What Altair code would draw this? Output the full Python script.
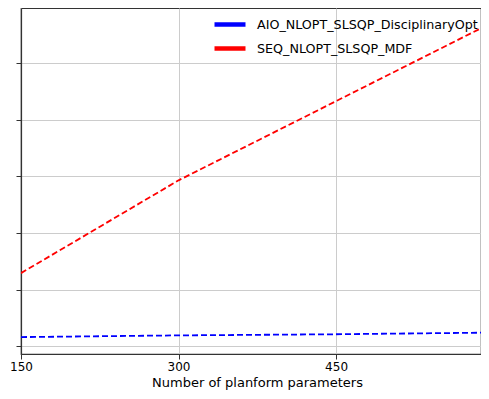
import altair as alt
import pandas as pd

params = [150, 300, 450, 600]
aio_values = [0.16, 0.19, 0.21, 0.24]
seq_values = [1.29, 2.93, 4.33, 5.73]
series_names = ["AIO_NLOPT_SLSQP_DisciplinaryOpt", "SEQ_NLOPT_SLSQP_MDF"]
series_colors = ["#0000ff", "#ff0000"]
x_ticks = [150, 300, 450, 600]
y_ticks = [0, 1, 2, 3, 4, 5]

rows = []
for p, v in zip(params, aio_values):
    rows.append({"n": p, "value": v, "series": series_names[0]})
for p, v in zip(params, seq_values):
    rows.append({"n": p, "value": v, "series": series_names[1]})
df = pd.DataFrame(rows)

font = "DejaVu Sans"

chart = alt.Chart(df).mark_line(strokeDash=[6, 3], strokeWidth=1.8, clip=True).encode(
    x=alt.X("n:Q", scale=alt.Scale(domain=[150, 588], nice=False, zero=False),
            axis=alt.Axis(values=x_ticks, title="Number of planform parameters",
                          titleX=236, labelFlush=False, labelBound=False)),
    y=alt.Y("value:Q", scale=alt.Scale(domain=[-0.139, 5.976], nice=False, zero=False),
            axis=alt.Axis(values=y_ticks, labels=False, title=None)),
    color=alt.Color("series:N", scale=alt.Scale(domain=series_names, range=series_colors),
                    legend=alt.Legend(title=None, orient="none", legendX=191, legendY=6.5,
                                      symbolType="M-1,0H3.133", symbolStrokeWidth=4.5,
                                      symbolSize=225, symbolDash=[], labelFontSize=12.7,
                                      labelFont=font, labelColor="black", labelOffset=25,
                                      labelLimit=400,
                                      rowPadding=5, padding=0)),
).properties(
    width=460, height=346,
    autosize=alt.AutoSizeParams(type="none"),
    padding={"left": 13, "top": 0, "right": 0, "bottom": 36},
).configure_view(
    stroke="#333333", strokeWidth=1.2
).configure_axis(
    grid=True, gridColor="#cccccc", gridWidth=1,
    domainColor="#333333", domainWidth=1.2,
    tickColor="#333333", tickSize=5, tickWidth=1,
    labelFont=font, labelFontSize=12, labelColor="black", labelPadding=2,
    titleFont=font, titleFontSize=13, titleFontWeight="normal", titleColor="black",
    titlePadding=4,
)

chart.save("out.html", embed_options={"renderer": "svg", "actions": False})
